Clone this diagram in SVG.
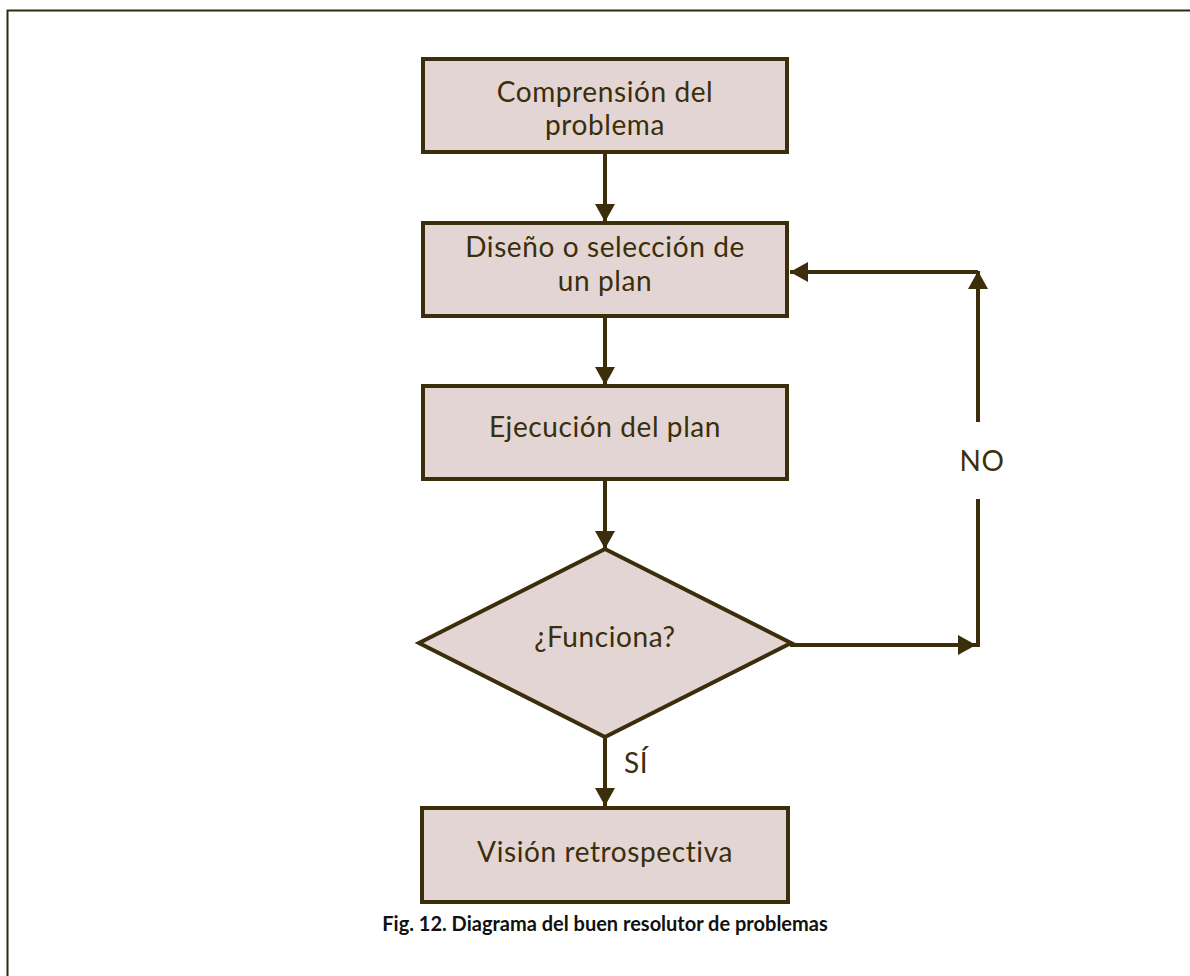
<svg xmlns="http://www.w3.org/2000/svg" width="1190" height="976" viewBox="0 0 1190 976">
  <style>
    .box { fill: #e2d5d4; stroke: #3b2e0a; stroke-width: 4; }
    .lbl { font-family: Lato, "Open Sans", sans-serif; font-size: 28px; font-weight: 400; letter-spacing: 0.6px; fill: #3b2e0a; text-anchor: middle; }
    .edge { stroke: #3b2e0a; stroke-width: 4; fill: none; }
    .cap { font-family: Lato, "Open Sans", sans-serif; font-size: 20px; font-weight: bold; fill: #111; text-anchor: middle; }
  </style>
  <defs>
    <marker id="arrow" viewBox="0 0 18 20" refX="18" refY="10" markerWidth="18" markerHeight="20" markerUnits="userSpaceOnUse" orient="auto">
      <path d="M0,0 L18,10 L0,20 Z" fill="#3b2e0a"/>
    </marker>
  </defs>
  <rect width="1190" height="976" fill="#ffffff"/>
  <!-- page frame (open to the right and bottom) -->
  <path d="M7.5,976 L7.5,10.5 L1190,10.5" fill="none" stroke="#2e2a0a" stroke-width="2"/>

  <g id="connectors">
    <line class="edge" x1="605" y1="153" x2="605" y2="222" marker-end="url(#arrow)"/>
    <line class="edge" x1="605" y1="317" x2="605" y2="385" marker-end="url(#arrow)"/>
    <line class="edge" x1="605" y1="479" x2="605" y2="549" marker-end="url(#arrow)"/>
    <line class="edge" x1="605" y1="738" x2="605" y2="806" marker-end="url(#arrow)"/>
    <line class="edge" x1="790" y1="645" x2="976" y2="645" marker-end="url(#arrow)"/>
    <line class="edge" x1="978" y1="647" x2="978" y2="499"/>
    <line class="edge" x1="978" y1="422" x2="978" y2="271" marker-end="url(#arrow)"/>
    <line class="edge" x1="978" y1="272" x2="790" y2="272" marker-end="url(#arrow)"/>
    <text class="lbl" x="982" y="471">NO</text>
    <text class="lbl" x="636" y="773">SÍ</text>
  </g>

  <g id="comprension">
    <rect class="box" x="423" y="59" width="364" height="93"/>
    <text class="lbl" x="605" y="102">Comprensión del</text>
    <text class="lbl" x="605" y="135">problema</text>
  </g>
  <g id="diseno">
    <rect class="box" x="423" y="223" width="364" height="93"/>
    <text class="lbl" x="605" y="257">Diseño o selección de</text>
    <text class="lbl" x="605" y="291">un plan</text>
  </g>
  <g id="ejecucion">
    <rect class="box" x="423" y="386" width="364" height="93"/>
    <text class="lbl" x="605" y="437">Ejecución del plan</text>
  </g>
  <g id="funciona">
    <polygon class="box" points="605,549 791,643 605,737 419,643"/>
    <text class="lbl" x="605" y="647">¿Funciona?</text>
  </g>
  <g id="vision">
    <rect class="box" x="422" y="808" width="366" height="94"/>
    <text class="lbl" x="605" y="862">Visión retrospectiva</text>
  </g>

  <text class="cap" x="605" y="931">Fig. 12. Diagrama del buen resolutor de problemas</text>
</svg>
